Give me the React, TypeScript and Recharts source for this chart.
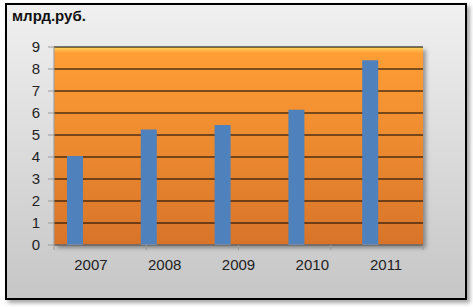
// Revenue by year, bln rub.
import { BarChart, Bar, XAxis, YAxis, CartesianGrid } from 'recharts';

const years = ['2007', '2008', '2009', '2010', '2011'];
const values = [4.05, 5.25, 5.45, 6.15, 8.4];
const yTicks = [0, 1, 2, 3, 4, 5, 6, 7, 8, 9];
const edgeTicks = [0, 1, 2, 3, 4, 5];

const chartData = years.map((year, i) => ({ year, value: values[i], empty: null }));

const font = '"Liberation Sans", Arial, sans-serif';

export default function App() {
  return (
    <div style={{ position: 'absolute', left: 0, top: 0, width: 473, height: 307, fontFamily: font }}>
      <svg width={0} height={0} style={{ position: 'absolute' }}>
        <defs>
          <linearGradient id="plotFill" x1="0" y1="0" x2="0" y2="1">
            <stop offset="0%" stopColor="#ffd760" />
            <stop offset="3%" stopColor="#ff9e35" />
            <stop offset="100%" stopColor="#d8742a" />
          </linearGradient>
        </defs>
      </svg>
      <div
        style={{
          position: 'absolute',
          left: 5,
          top: 3,
          width: 458,
          height: 293,
          border: '2px solid #000',
          background: 'linear-gradient(#f0f0f0, #c6c6c6)',
          boxShadow: '3px 3px 4px rgba(0,0,0,0.35)',
        }}
      />
      <div
        style={{
          position: 'absolute',
          left: 54,
          top: 47,
          width: 369,
          height: 198,
          boxShadow: '3px 3px 4px rgba(0,0,0,0.35)',
        }}
      />
      <div style={{ position: 'absolute', left: 12, top: 7, fontSize: 15, fontWeight: 'bold', color: '#111' }}>
        млрд.руб.
      </div>
      <div style={{ position: 'absolute', left: 0, top: 0 }}>
        <BarChart
          width={473}
          height={307}
          data={chartData}
          margin={{ top: 47, right: 50, bottom: 26, left: 0 }}
          barSize={16}
          barGap={16}
        >
          <CartesianGrid vertical={false} stroke="#000" strokeWidth={1.2} fill="url(#plotFill)" fillOpacity={1} />
          <XAxis
            xAxisId="aEdges"
            type="number"
            domain={[0, 5]}
            ticks={edgeTicks}
            tickFormatter={() => ''}
            tickSize={5}
            height={6}
            stroke="#999"
          />
          <XAxis
            xAxisId="bCat"
            dataKey="year"
            axisLine={false}
            tickLine={false}
            height={30}
            tick={{ fill: '#222', fontSize: 15 }}
          />
          <YAxis
            domain={[0, 9]}
            ticks={yTicks}
            interval={0}
            width={54}
            tickSize={6}
            tickMargin={8}
            stroke="#999"
            tick={{ fill: '#222', fontSize: 15 }}
          />
          <Bar xAxisId="bCat" dataKey="value" fill="#4f81bd" isAnimationActive={false} />
          <Bar xAxisId="bCat" dataKey="empty" fill="#c0504d" isAnimationActive={false} />
        </BarChart>
      </div>
    </div>
  );
}
